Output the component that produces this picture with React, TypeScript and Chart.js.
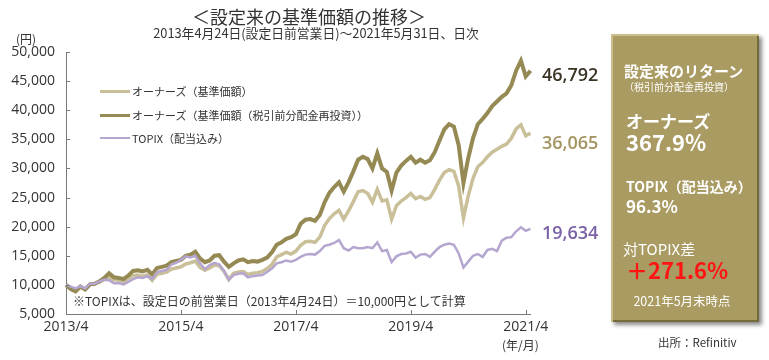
import React, { useEffect, useRef } from "react";
import { Chart, registerables } from "chart.js";

Chart.register(...registerables);

// ---- data (monthly readings, 2013/4 .. 2021/5) ----
const startYear = 2013;
const startMonth = 4;

const ownersNav = [
  10000, 9300, 8900, 9700, 9200, 10100, 10200, 10500, 10900, 11200,
  10900, 10800, 10600, 11100, 11600, 11700, 11500, 11700, 10800, 11800,
  12000, 12200, 12700, 12900, 13100, 13600, 13800, 14100, 13000, 12500,
  12900, 13400, 13300, 12300, 10900, 12000, 12200, 12300, 11800, 12000,
  12100, 12300, 12800, 13500, 14800, 15200, 15600, 15300, 15800, 16800,
  17400, 17500, 17300, 18200, 20200, 21400, 22200, 22800, 21300, 22700,
  24300, 26000, 26200, 25700, 24200, 26400, 24400, 24600, 21300, 23600,
  24400, 25000, 25700, 24800, 25200, 24700, 25000, 26400, 28000, 29300,
  29800, 29500, 27000, 21500, 25300, 28300, 30300, 31000, 32000, 32800,
  33300, 33800, 34200, 35200, 36800, 37500, 35600, 36065,
];

const ownersReinvested = [
  10000, 9300, 8900, 9700, 9200, 10100, 10200, 10600, 11200, 12000,
  11300, 11200, 11000, 11600, 12400, 12500, 12300, 12600, 11800, 12900,
  13100, 13300, 13900, 14100, 14300, 15000, 15200, 15700, 14500, 13900,
  14200, 15000, 15100, 14000, 13100, 13700, 14200, 14400, 13900, 14100,
  14000, 14300, 14700, 15600, 16900, 17300, 17900, 18200, 18700, 20500,
  21200, 21300, 21000, 22000, 24200, 25800, 26800, 27600, 26000, 27600,
  29500, 31500, 32000, 31600, 30000, 32600, 30000, 29400, 26200, 29300,
  30500, 31300, 32000, 31000, 31500, 31000, 31400, 32800, 34800, 36700,
  37600, 37200, 34000, 27500, 31800, 35200, 37600, 38500, 39500, 40700,
  41500, 42300, 42900, 44300, 46800, 48500, 45800, 46792,
];

const topixTR = [
  10000, 9700, 9400, 9800, 9400, 10200, 10200, 10600, 10900, 10800,
  10300, 10300, 10100, 10500, 11000, 11300, 11200, 11500, 11000, 12200,
  12400, 12600, 13500, 13800, 14300, 14900, 14700, 15000, 13700, 12700,
  13400, 13800, 13500, 12400, 10900, 11700, 11900, 12000, 11300, 11500,
  11600, 11700, 12200, 12800, 13700, 13900, 14200, 14000, 14300, 14800,
  15200, 15300, 15200, 15800, 16700, 16900, 17200, 17700, 16300, 15900,
  16500, 16300, 16300, 16500, 16300, 17300, 15800, 16000, 13900, 14900,
  15300, 15400, 15700, 14700, 15200, 15300, 14800, 15700, 16500, 16900,
  17100, 16900, 15400, 13000, 14000, 15000, 15300, 14800, 16000, 16200,
  15800, 17600, 18100, 18200, 19200, 19900, 19300, 19634,
];

const xTickLabels = ["2013/4", "2015/4", "2017/4", "2019/4", "2021/4"];
const yMin = 5000;
const yMax = 50000;
const yStep = 5000;

const seriesNames = [
  "オーナーズ（基準価額）",
  "オーナーズ（基準価額（税引前分配金再投資））",
  "TOPIX（配当込み）",
];
const endLabels = ["46,792", "36,065", "19,634"];

const colLight = "#c9bf99";
const colDark = "#958954";
const colTopix = "#b5a6cf";

const FONT = "'Noto Sans CJK JP', 'Noto Sans', sans-serif";
const TICK_FONT = "'Open Sans', 'Noto Sans CJK JP', sans-serif";

const categories = ownersNav.map((_, i) => {
  const m = startMonth - 1 + i;
  return `${startYear + Math.floor(m / 12)}/${(m % 12) + 1}`;
});

const innerTicks = {
  id: "innerTicks",
  afterDraw(chart: any) {
    const { ctx, chartArea, scales } = chart;
    ctx.save();
    ctx.strokeStyle = "#7a7a7a";
    ctx.lineWidth = 1;
    ctx.beginPath();
    for (let v = yMin; v <= yMax; v += yStep) {
      const y = Math.round(scales.y.getPixelForValue(v)) + 0.5;
      ctx.moveTo(chartArea.left, y);
      ctx.lineTo(chartArea.left + 4, y);
    }
    categories.forEach((c, i) => {
      if (xTickLabels.includes(c)) {
        const x = Math.round(scales.x.getPixelForValue(i)) + 0.5;
        ctx.moveTo(x, chartArea.bottom);
        ctx.lineTo(x, chartArea.bottom - 4);
      }
    });
    ctx.stroke();
    ctx.restore();
  },
};

function T(props: {
  x: number;
  y: number;
  size: number;
  color?: string;
  weight?: number | string;
  center?: boolean;
  family?: string;
  children: React.ReactNode;
}) {
  const { x, y, size, color = "#333", weight = 400, center, family = FONT, children } = props;
  return (
    <div
      style={{
        position: "absolute",
        left: x,
        top: y,
        transform: center ? "translate(-50%,-50%)" : "translateY(-50%)",
        fontSize: size,
        lineHeight: 1,
        color,
        fontWeight: weight as any,
        whiteSpace: "nowrap",
        fontFamily: family,
      }}
    >
      {children}
    </div>
  );
}

export default function App() {
  const ref = useRef<HTMLCanvasElement | null>(null);

  useEffect(() => {
    if (!ref.current) return;
    const chart = new Chart(ref.current, {
      type: "line",
      data: {
        labels: categories,
        datasets: [
          {
            label: seriesNames[2],
            data: topixTR,
            borderColor: colTopix,
            borderWidth: 2.5,
            pointRadius: 0,
            tension: 0,
            order: 0,
          },
          {
            label: seriesNames[1],
            data: ownersReinvested,
            borderColor: colDark,
            borderWidth: 4,
            pointRadius: 0,
            tension: 0,
            order: 1,
          },
          {
            label: seriesNames[0],
            data: ownersNav,
            borderColor: colLight,
            borderWidth: 3.5,
            pointRadius: 0,
            tension: 0,
            order: 2,
          },
        ],
      },
      options: {
        responsive: false,
        animation: false,
        devicePixelRatio: 1,
        layout: { padding: { left: 0, right: 238.5, top: 52, bottom: 0 } },
        plugins: { legend: { display: false }, tooltip: { enabled: false } },
        scales: {
          x: {
            type: "category",
            offset: false,
            grid: { display: false, drawTicks: false },
            border: { display: true, color: "#7a7a7a", width: 1 },
            ticks: {
              autoSkip: false,
              maxRotation: 0,
              minRotation: 0,
              padding: 5,
              color: "#333",
              font: { family: TICK_FONT, size: 14 },
              callback: (_v: any, i: number) =>
                xTickLabels.includes(categories[i]) ? categories[i] : "",
            },
            afterFit: (s: any) => {
              s.height = 46;
            },
          },
          y: {
            min: yMin,
            max: yMax,
            grid: { display: false, drawTicks: false },
            border: { display: true, color: "#7a7a7a", width: 1 },
            ticks: {
              stepSize: yStep,
              padding: 11,
              color: "#333",
              font: { family: TICK_FONT, size: 14 },
              callback: (v: any) => Number(v).toLocaleString("en-US"),
            },
            afterFit: (s: any) => {
              s.width = 66;
            },
          },
        },
      },
      plugins: [innerTicks],
    });
    return () => chart.destroy();
  }, []);

  const legendRows = [
    { name: seriesNames[0], color: colLight, w: 3, y: 91 },
    { name: seriesNames[1], color: colDark, w: 3, y: 115 },
    { name: seriesNames[2], color: colTopix, w: 2, y: 138 },
  ];

  return (
    <div
      style={{
        position: "absolute",
        left: 0,
        top: 0,
        width: 769,
        height: 360,
        background: "#fff",
        overflow: "hidden",
        fontFamily: FONT,
      }}
    >
      <canvas
        ref={ref}
        width={769}
        height={360}
        style={{ position: "absolute", left: 0, top: 0, width: 769, height: 360 }}
      />
      {/* titles */}
      <T x={309} y={16} size={18} center>
        ＜設定来の基準価額の推移＞
      </T>
      <T x={316} y={33} size={12.8} center>
        2013年4月24日(設定日前営業日)～2021年5月31日、日次
      </T>
      <T x={16} y={39} size={12}>
        (円)
      </T>
      <T x={502} y={345} size={12}>
        (年/月)
      </T>

      {/* legend */}
      {legendRows.map((r) => (
        <React.Fragment key={r.name}>
          <div
            style={{
              position: "absolute",
              left: 100,
              top: r.y - r.w / 2,
              width: 30,
              height: r.w,
              background: r.color,
            }}
          />
          <T x={132} y={r.y} size={11}>
            {r.name}
          </T>
        </React.Fragment>
      ))}

      <T x={73} y={301} size={12}>
        ※TOPIXは、設定日の前営業日（2013年4月24日）＝10,000円として計算
      </T>

      {/* end labels */}
      <T x={542} y={74} size={18} weight={600} color="#3b3425" family={TICK_FONT}>
        {endLabels[0]}
      </T>
      <T x={542} y={142} size={18} weight={600} color="#a39461" family={TICK_FONT}>
        {endLabels[1]}
      </T>
      <T x={542} y={232} size={18} weight={600} color="#7b62a6" family={TICK_FONT}>
        {endLabels[2]}
      </T>

      {/* right box */}
      <div
        style={{
          position: "absolute",
          left: 611,
          top: 34,
          width: 148,
          height: 288,
          background: "#a99b62",
          boxShadow:
            "inset 2px 2px 0 #cabf8c, inset -2px -2px 0 #756a3a, 3px 3px 4px rgba(0,0,0,0.45)",
        }}
      />
      <T x={624} y={70} size={15} weight={700} color="#fff">
        設定来のリターン
      </T>
      <T x={624} y={87} size={10} color="#fff">
        （税引前分配金再投資）
      </T>
      <T x={626} y={120} size={17} weight={700} color="#fff">
        オーナーズ
      </T>
      <T x={626} y={141} size={22} weight={700} color="#fff">
        367.9%
      </T>
      <T x={626} y={186} size={14} weight={700} color="#fff">
        TOPIX（配当込み）
      </T>
      <T x={626} y={205} size={17} weight={700} color="#fff">
        96.3%
      </T>
      <T x={623} y={248} size={15} color="#fff">
        対TOPIX差
      </T>
      <T x={626} y={269} size={22} weight={700} color="#ff1414">
        ＋271.6%
      </T>
      <T x={682} y={301} size={12.5} color="#fff" center>
        2021年5月末時点
      </T>

      <T x={658} y={343} size={11.5}>
        出所：Refinitiv
      </T>
    </div>
  );
}
